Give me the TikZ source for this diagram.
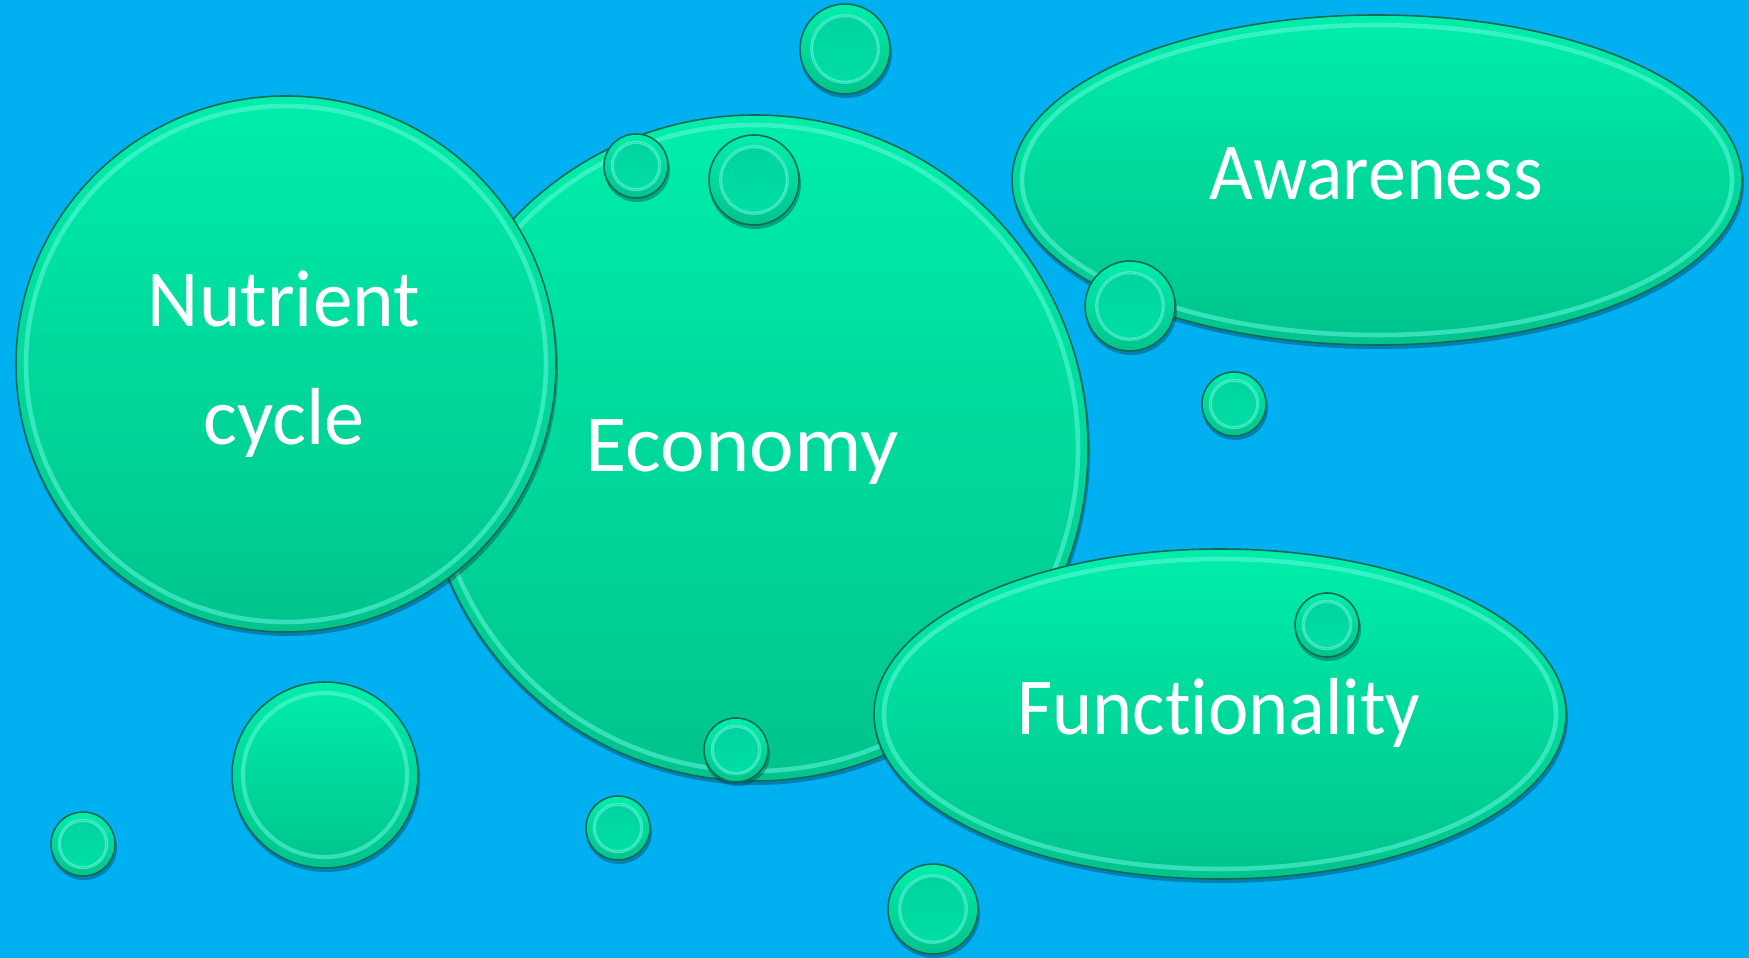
\documentclass[tikz,border=0pt]{standalone}
\usepackage{fontspec}
\setmainfont{Carlito}[Ligatures=NoCommon]
\usetikzlibrary{shapes.geometric}

\definecolor{sky}{RGB}{0,176,240}
\definecolor{mintTop}{RGB}{0,238,170}
\definecolor{mintBot}{RGB}{0,196,140}
\definecolor{rim}{RGB}{100,248,222}
\definecolor{edge}{RGB}{20,105,85}
\definecolor{coreTop}{RGB}{0,212,160}
\definecolor{coreBot}{RGB}{0,222,165}

\tikzset{
  x=0.01cm, y=-0.01cm,
  dropbody/.style={ellipse, inner sep=0pt, outer sep=0pt, draw=edge,
    line width=0.45pt, top color=mintTop, bottom color=mintBot},
  dropshadow/.style={fill=black!75!sky, opacity=0.35},
  dropring/.style={draw=rim, opacity=0.55},
  dropcore/.style={top color=coreTop, bottom color=coreBot},
  lbl/.style={text=white, inner sep=0pt, anchor=base,
    font=\fontsize{23}{28}\selectfont\addfontfeatures{FakeStretch=#1}},
  lbl/.default=1,
}

% drop body with its shadow: name, x, y, x radius, y radius
\newcommand\mkbody[5]{%
  \fill[dropshadow] (#2+1,#3+4) ellipse [x radius=#4+1, y radius=#5];
  \node[dropbody, minimum width={2*#4*0.01cm}, minimum height={2*#5*0.01cm}]
    (#1) at (#2,#3) {};
}
% a raised drop with a rim just inside its edge: name, x, y, rx, ry, inset, rim width
\newcommand\mkdrop[7]{%
  \mkbody{#1}{#2}{#3}{#4}{#5}
  \draw[dropring, line width=#7] (#1.center)
    ellipse [x radius={#4-#6}, y radius={#5-#6}];
}
% a small drop with a sunken centre: name, x, y, radius
\newcommand\mkbead[4]{%
  \mkbody{#1}{#2}{#3}{#4}{#4}
  \fill[dropcore] (#1.center) ellipse [x radius={0.74*#4}, y radius={0.74*#4}];
  \draw[draw=rim, opacity=0.6, line width=0.9pt] (#1.center)
    ellipse [x radius={0.74*#4}, y radius={0.74*#4}];
}

\begin{document}
\begin{tikzpicture}
  \fill[sky] (0,0) rectangle (1749,958);
  \useasboundingbox (0,0) rectangle (1749,958);

  % main shapes
  \mkdrop{economy}{755}{448}{333}{333}{10}{1.3pt}
  \mkdrop{nutrient}{286}{364}{270}{268}{10}{1.3pt}
  \mkdrop{awareness}{1377}{180}{365}{165}{10}{1.3pt}
  \mkdrop{function}{1220}{714}{346}{165}{10}{1.3pt}

  % labels
  \node[lbl=0.98] (tnut1) at (284,327) {Nutrient};
  \node[lbl=0.99] (tnut2) at (284,444) {cycle};
  \node[lbl=1.045] (teco) at (742,471) {Economy};
  \node[lbl=0.937] (tawa) at (1376,200) {Awareness};
  \node[lbl=0.945] (tfun) at (1219,734) {Functionality};

  % small drops
  \mkbead{b1}{845}{49}{45}
  \mkbead{b2}{636}{166}{32}
  \mkbead{b3}{754}{180}{45}
  \mkbead{b4}{1130}{306}{45}
  \mkbead{b5}{1234}{404}{32}
  \mkbead{b6}{1327}{625}{32}
  \mkbead{b7}{736}{750}{32}
  \mkdrop{b8}{325}{775}{93}{93}{11}{1.2pt}
  \mkbead{b9}{83}{844}{32}
  \mkbead{b10}{618}{828}{32}
  \mkbead{b11}{933}{909}{45}
\end{tikzpicture}
\end{document}
